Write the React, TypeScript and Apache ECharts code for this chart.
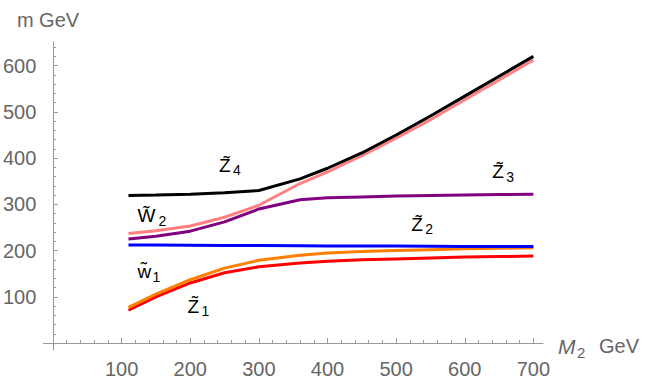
import React, { useEffect, useRef } from "react";
import * as echarts from "echarts";

// M2 values (GeV) where the masses are sampled
const M2 = [110, 150, 200, 250, 300, 360, 400, 450, 500, 550, 600, 650, 700];
// masses (GeV)
const zino4 = [319, 320, 322, 325, 330, 355, 378, 411, 450, 491, 534, 577, 620];
const wino2 = [237, 243, 253, 272, 298, 345, 370, 405, 443, 483, 526, 569, 612];
const zino3 = [225, 231, 242, 262, 290, 310, 314, 316, 318, 319, 320, 321, 322];
const zino2 = [212, 212, 211.5, 211, 211, 210.5, 210, 210, 210, 209.5, 209, 209, 209];
const wino1 = [77, 106, 137, 162, 179, 190, 195, 198, 200, 202, 204, 205, 206];
const zino1 = [71, 100, 130, 152, 165, 173, 177, 180, 182, 184, 186, 187, 188];

const seriesNames = ["zino1", "wino1", "zino2", "zino3", "wino2", "zino4"];
const seriesValues = [zino1, wino1, zino2, zino3, wino2, zino4];
const seriesColors = ["#ff0000", "#ff8000", "#0000ff", "#800080", "#ff8080", "#000000"];

const xTicks = [100, 200, 300, 400, 500, 600, 700];
const xMinor = [20, 40, 60, 80, 120, 140, 160, 180, 220, 240, 260, 280, 320, 340, 360, 380, 420, 440, 460, 480, 520, 540, 560, 580, 620, 640, 660, 680];
const yTicks = [100, 200, 300, 400, 500, 600];
const yMinor = [20, 40, 60, 80, 120, 140, 160, 180, 220, 240, 260, 280, 320, 340, 360, 380, 420, 440, 460, 480, 520, 540, 560, 580, 620, 640];

// curve labels (data-space anchors)
const labelMain = ["Z\u0303", "W\u0303", "w\u0303", "Z\u0303", "Z\u0303", "Z\u0303"];
const labelSub = ["4", "2", "1", "1", "2", "3"];
const labelX = [242, 123, 123, 196, 522, 640];
const labelY = [384, 275, 154, 80, 257, 370];

const FONT = "'Liberation Sans', Arial, Helvetica, sans-serif";
const AXIS_COLOR = "#999999";
const LABEL_COLOR = "#666666";

export default function App() {
  const ref = useRef<HTMLDivElement>(null);

  useEffect(() => {
    document.body.style.margin = "0";
    if (!ref.current) return;
    const chart = echarts.init(ref.current, undefined, { renderer: "svg" });

    const xCommon = {
      type: "value" as const,
      min: -14,
      max: 714,
      position: "bottom" as const,
      splitLine: { show: false },
    };
    const yCommon = {
      type: "value" as const,
      min: -15,
      max: 651,
      position: "left" as const,
      splitLine: { show: false },
    };

    const option: any = {
      animation: false,
      backgroundColor: "#ffffff",
      grid: { left: 40, top: 42, width: 503, height: 311, containLabel: false },
      xAxis: [
        {
          ...xCommon,
          axisLine: { show: true, onZero: true, onZeroAxisIndex: 0, lineStyle: { color: AXIS_COLOR, width: 1 } },
          axisTick: { show: true, customValues: xTicks, inside: true, length: 5, lineStyle: { color: AXIS_COLOR } },
          axisLabel: { show: true, customValues: xTicks, color: LABEL_COLOR, fontSize: 20, fontFamily: FONT, margin: 9 },
        },
        {
          ...xCommon,
          axisLine: { show: false, onZero: true, onZeroAxisIndex: 0 },
          axisTick: { show: true, customValues: xMinor, inside: true, length: 3, lineStyle: { color: AXIS_COLOR } },
          axisLabel: { show: false },
        },
      ],
      yAxis: [
        {
          ...yCommon,
          axisLine: { show: true, onZero: true, onZeroAxisIndex: 0, lineStyle: { color: AXIS_COLOR, width: 1 } },
          axisTick: { show: true, customValues: yTicks, inside: true, length: 5, lineStyle: { color: AXIS_COLOR } },
          axisLabel: { show: true, customValues: yTicks, color: LABEL_COLOR, fontSize: 20, fontFamily: FONT, margin: 7 },
        },
        {
          ...yCommon,
          axisLine: { show: false, onZero: true, onZeroAxisIndex: 0 },
          axisTick: { show: true, customValues: yMinor, inside: true, length: 3, lineStyle: { color: AXIS_COLOR } },
          axisLabel: { show: false },
        },
      ],
      series: seriesValues.map((vals, i) => ({
        name: seriesNames[i],
        type: "line",
        xAxisIndex: 0,
        yAxisIndex: 0,
        data: M2.map((m, j) => [m, vals[j]]),
        showSymbol: false,
        symbol: "none",
        smooth: false,
        lineStyle: { color: seriesColors[i], width: 3 },
        itemStyle: { color: seriesColors[i] },
        z: 2 + i,
      })),
    };
    chart.setOption(option);

    const elements: any[] = [];
    labelMain.forEach((m, i) => {
      const p = chart.convertToPixel({ xAxisIndex: 0, yAxisIndex: 0 }, [labelX[i], labelY[i]]) as number[];
      const dx = m.startsWith("W") ? 21 : m.startsWith("w") ? 15 : 14;
      elements.push({
        type: "text",
        x: p[0],
        y: p[1],
        style: { text: m, fill: "#000", fontSize: 19, fontFamily: FONT, align: "left", verticalAlign: "middle" },
        z: 100,
      });
      elements.push({
        type: "text",
        x: p[0] + dx,
        y: p[1] + 5,
        style: { text: labelSub[i], fill: "#000", fontSize: 14, fontFamily: FONT, align: "left", verticalAlign: "middle" },
        z: 100,
      });
    });
    // axis names
    elements.push({
      type: "text",
      x: 48,
      y: 20,
      style: { text: "m GeV", fill: LABEL_COLOR, fontSize: 20, fontFamily: FONT, align: "center", verticalAlign: "middle" },
    });
    elements.push({
      type: "text",
      x: 558,
      y: 346,
      style: { text: "M", fill: LABEL_COLOR, fontSize: 21, fontStyle: "italic", fontFamily: FONT, align: "left", verticalAlign: "middle" },
    });
    elements.push({
      type: "text",
      x: 577,
      y: 352,
      style: { text: "2", fill: LABEL_COLOR, fontSize: 15, fontFamily: FONT, align: "left", verticalAlign: "middle" },
    });
    elements.push({
      type: "text",
      x: 599,
      y: 346,
      style: { text: "GeV", fill: LABEL_COLOR, fontSize: 20, fontFamily: FONT, align: "left", verticalAlign: "middle" },
    });
    chart.setOption({ graphic: elements });

    return () => {
      chart.dispose();
    };
  }, []);

  return <div ref={ref} style={{ width: 669, height: 379 }} />;
}
